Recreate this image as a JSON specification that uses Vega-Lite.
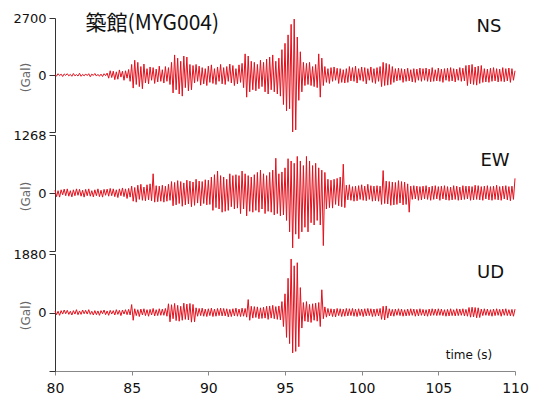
{
"$schema":"https://vega.github.io/schema/vega-lite/v6.json",
"padding":{"left":12,"top":12,"right":5,"bottom":0},
"background":"white",
"bounds":"flush",
"spacing":3,
"config":{"view":{"stroke":null},"font":"DejaVu Sans",
 "axisY":{"grid":false,"domainColor":"#333","domainWidth":1,"tickColor":"#333","tickSize":6,"labelFontSize":13,"labelColor":"#111","labelPadding":3,"labelFlush":false,"format":"d","labelExpr":"datum.value < 0 ? '' : datum.label","titleFontSize":12,"titleFontWeight":"normal","titleColor":"#666","titleX":-30,"titleAngle":-90,"titleBaseline":"middle","titleAlign":"center"},
 "axisX":{"grid":false,"domainColor":"#888","tickColor":"#888","tickSize":4,"labelFontSize":14,"labelColor":"#111","labelPadding":6,"labelFlush":false}},
"datasets":{"w":[
{"t":80.0,"ns":20,"ew":60,"ud":50},{"t":80.1,"ns":-50,"ew":-80,"ud":-70},{"t":80.2,"ns":60,"ew":50,"ud":40},{"t":80.3,"ns":-30,"ew":-90,"ud":-90},{"t":80.4,"ns":40,"ew":70,"ud":60},{"t":80.5,"ns":-70,"ew":-40,"ud":-50},{"t":80.6,"ns":50,"ew":85,"ud":80},{"t":80.7,"ns":-20,"ew":-60,"ud":-40},{"t":80.8,"ns":60,"ew":90,"ud":70},{"t":80.9,"ns":-40,"ew":-70,"ud":-60},
{"t":81.0,"ns":30,"ew":50,"ud":40},{"t":81.1,"ns":-60,"ew":-85,"ud":-80},{"t":81.2,"ns":70,"ew":70,"ud":60},{"t":81.3,"ns":-40,"ew":-60,"ud":-50},{"t":81.4,"ns":20,"ew":90,"ud":90},{"t":81.5,"ns":-50,"ew":-50,"ud":-70},{"t":81.6,"ns":80,"ew":80,"ud":50},{"t":81.7,"ns":-60,"ew":-70,"ud":-60},{"t":81.8,"ns":30,"ew":60,"ud":80},{"t":81.9,"ns":-40,"ew":-90,"ud":-40},
{"t":82.0,"ns":50,"ew":80,"ud":70},{"t":82.1,"ns":-30,"ew":-60,"ud":-50},{"t":82.2,"ns":60,"ew":90,"ud":90},{"t":82.3,"ns":-80,"ew":-70,"ud":-60},{"t":82.4,"ns":40,"ew":50,"ud":40},{"t":82.5,"ns":-20,"ew":-85,"ud":-80},{"t":82.6,"ns":70,"ew":70,"ud":60},{"t":82.7,"ns":-50,"ew":-60,"ud":-70},{"t":82.8,"ns":30,"ew":90,"ud":50},{"t":82.9,"ns":-60,"ew":-80,"ud":-90},
{"t":83.0,"ns":40,"ew":60,"ud":60},{"t":83.1,"ns":-70,"ew":-90,"ud":-40},{"t":83.2,"ns":60,"ew":80,"ud":80},{"t":83.3,"ns":-30,"ew":-50,"ud":-70},{"t":83.4,"ns":90,"ew":85,"ud":50},{"t":83.5,"ns":-150,"ew":-70,"ud":-90},{"t":83.6,"ns":200,"ew":100,"ud":70},{"t":83.7,"ns":-120,"ew":-60,"ud":-50},{"t":83.8,"ns":180,"ew":90,"ud":60},{"t":83.9,"ns":-220,"ew":-80,"ud":-80},
{"t":84.0,"ns":150,"ew":70,"ud":90},{"t":84.1,"ns":-200,"ew":-100,"ud":-60},{"t":84.2,"ns":240,"ew":90,"ud":70},{"t":84.3,"ns":-100,"ew":-60,"ud":-100},{"t":84.4,"ns":180,"ew":110,"ud":80},{"t":84.5,"ns":-250,"ew":-80,"ud":-50},{"t":84.6,"ns":200,"ew":90,"ud":90},{"t":84.7,"ns":-150,"ew":-120,"ud":-70},{"t":84.8,"ns":260,"ew":100,"ud":100},{"t":84.9,"ns":-300,"ew":-90,"ud":-80},
{"t":85.0,"ns":500,"ew":150,"ud":255},{"t":85.1,"ns":-620,"ew":-180,"ud":-250},{"t":85.2,"ns":700,"ew":120,"ud":120},{"t":85.3,"ns":-450,"ew":-200,"ud":-100},{"t":85.4,"ns":600,"ew":170,"ud":90},{"t":85.5,"ns":-550,"ew":-140,"ud":-130},{"t":85.6,"ns":400,"ew":190,"ud":110},{"t":85.7,"ns":-650,"ew":-160,"ud":-80},{"t":85.8,"ns":520,"ew":130,"ud":120},{"t":85.9,"ns":-380,"ew":-170,"ud":-100},
{"t":86.0,"ns":300,"ew":180,"ud":90},{"t":86.1,"ns":-420,"ew":-150,"ud":-120},{"t":86.2,"ns":380,"ew":200,"ud":100},{"t":86.3,"ns":-250,"ew":-170,"ud":-80},{"t":86.4,"ns":350,"ew":420,"ud":130},{"t":86.5,"ns":-400,"ew":-200,"ud":-110},{"t":86.6,"ns":280,"ew":160,"ud":90},{"t":86.7,"ns":-330,"ew":-190,"ud":-100},{"t":86.8,"ns":420,"ew":150,"ud":120},{"t":86.9,"ns":-300,"ew":-180,"ud":-90},
{"t":87.0,"ns":250,"ew":170,"ud":110},{"t":87.1,"ns":-380,"ew":-200,"ud":-90},{"t":87.2,"ns":400,"ew":150,"ud":130},{"t":87.3,"ns":-300,"ew":-180,"ud":-120},{"t":87.4,"ns":350,"ew":190,"ud":280},{"t":87.5,"ns":-450,"ew":-160,"ud":-300},{"t":87.6,"ns":600,"ew":250,"ud":250},{"t":87.7,"ns":-850,"ew":-280,"ud":-200},{"t":87.8,"ns":950,"ew":230,"ud":290},{"t":87.9,"ns":-700,"ew":-260,"ud":-260},
{"t":88.0,"ns":800,"ew":270,"ud":230},{"t":88.1,"ns":-900,"ew":-230,"ud":-280},{"t":88.2,"ns":650,"ew":250,"ud":200},{"t":88.3,"ns":-1000,"ew":-290,"ud":-250},{"t":88.4,"ns":900,"ew":220,"ud":300},{"t":88.5,"ns":-600,"ew":-260,"ud":-220},{"t":88.6,"ns":850,"ew":280,"ud":270},{"t":88.7,"ns":-750,"ew":-240,"ud":-240},{"t":88.8,"ns":500,"ew":260,"ud":290},{"t":88.9,"ns":-700,"ew":-300,"ud":-310},
{"t":89.0,"ns":450,"ew":240,"ud":260},{"t":89.1,"ns":-380,"ew":-270,"ud":-300},{"t":89.2,"ns":500,"ew":300,"ud":150},{"t":89.3,"ns":-300,"ew":-220,"ud":-120},{"t":89.4,"ns":420,"ew":260,"ud":130},{"t":89.5,"ns":-480,"ew":-280,"ud":-100},{"t":89.6,"ns":350,"ew":250,"ud":140},{"t":89.7,"ns":-420,"ew":-230,"ud":-120},{"t":89.8,"ns":300,"ew":290,"ud":110},{"t":89.9,"ns":-500,"ew":-260,"ud":-130},
{"t":90.0,"ns":420,"ew":280,"ud":120},{"t":90.1,"ns":-350,"ew":-250,"ud":-100},{"t":90.2,"ns":480,"ew":350,"ud":140},{"t":90.3,"ns":-400,"ew":-380,"ud":-130},{"t":90.4,"ns":300,"ew":400,"ud":110},{"t":90.5,"ns":-450,"ew":-320,"ud":-120},{"t":90.6,"ns":380,"ew":480,"ud":130},{"t":90.7,"ns":-300,"ew":-350,"ud":-100},{"t":90.8,"ns":500,"ew":380,"ud":140},{"t":90.9,"ns":-420,"ew":-420,"ud":-110},
{"t":91.0,"ns":350,"ew":350,"ud":130},{"t":91.1,"ns":-450,"ew":-400,"ud":-110},{"t":91.2,"ns":400,"ew":300,"ud":120},{"t":91.3,"ns":-300,"ew":-380,"ud":-140},{"t":91.4,"ns":520,"ew":420,"ud":100},{"t":91.5,"ns":-380,"ew":-300,"ud":-130},{"t":91.6,"ns":450,"ew":380,"ud":120},{"t":91.7,"ns":-500,"ew":-350,"ud":-110},{"t":91.8,"ns":300,"ew":400,"ud":140},{"t":91.9,"ns":-420,"ew":-330,"ud":-120},
{"t":92.0,"ns":480,"ew":380,"ud":110},{"t":92.1,"ns":-350,"ew":-450,"ud":-130},{"t":92.2,"ns":550,"ew":480,"ud":140},{"t":92.3,"ns":-600,"ew":-350,"ud":-120},{"t":92.4,"ns":1000,"ew":420,"ud":130},{"t":92.5,"ns":-1050,"ew":-500,"ud":-150},{"t":92.6,"ns":900,"ew":380,"ud":415},{"t":92.7,"ns":-800,"ew":-400,"ud":-250},{"t":92.8,"ns":650,"ew":350,"ud":200},{"t":92.9,"ns":-700,"ew":-420,"ud":-180},
{"t":93.0,"ns":600,"ew":400,"ud":190},{"t":93.1,"ns":-750,"ew":-380,"ud":-160},{"t":93.2,"ns":500,"ew":450,"ud":180},{"t":93.3,"ns":-650,"ew":-420,"ud":-200},{"t":93.4,"ns":700,"ew":500,"ud":150},{"t":93.5,"ns":-550,"ew":-350,"ud":-190},{"t":93.6,"ns":600,"ew":420,"ud":170},{"t":93.7,"ns":-800,"ew":-450,"ud":-180},{"t":93.8,"ns":750,"ew":380,"ud":200},{"t":93.9,"ns":-900,"ew":-400,"ud":-220},
{"t":94.0,"ns":850,"ew":450,"ud":210},{"t":94.1,"ns":-700,"ew":-420,"ud":-180},{"t":94.2,"ns":950,"ew":500,"ud":230},{"t":94.3,"ns":-800,"ew":-480,"ud":-200},{"t":94.4,"ns":650,"ew":760,"ud":190},{"t":94.5,"ns":-900,"ew":-450,"ud":-220},{"t":94.6,"ns":800,"ew":420,"ud":210},{"t":94.7,"ns":-1000,"ew":-500,"ud":-240},{"t":94.8,"ns":1200,"ew":460,"ud":350},{"t":94.9,"ns":-1400,"ew":-480,"ud":-450},
{"t":95.0,"ns":1500,"ew":550,"ud":600},{"t":95.1,"ns":-1700,"ew":-600,"ud":-800},{"t":95.2,"ns":1900,"ew":750,"ud":1100},{"t":95.3,"ns":-1600,"ew":-850,"ud":-1000},{"t":95.4,"ns":2400,"ew":700,"ud":1720},{"t":95.5,"ns":-2700,"ew":-1200,"ud":-1300},{"t":95.6,"ns":2650,"ew":650,"ud":1500},{"t":95.7,"ns":-2600,"ew":-900,"ud":-1250},{"t":95.8,"ns":1800,"ew":800,"ud":1600},{"t":95.9,"ns":-1200,"ew":-1000,"ud":-1100},
{"t":96.0,"ns":1100,"ew":700,"ud":800},{"t":96.1,"ns":-800,"ew":-850,"ud":-500},{"t":96.2,"ns":600,"ew":600,"ud":320},{"t":96.3,"ns":-500,"ew":-750,"ud":-280},{"t":96.4,"ns":550,"ew":800,"ud":350},{"t":96.5,"ns":-450,"ew":-850,"ud":-300},{"t":96.6,"ns":600,"ew":700,"ud":260},{"t":96.7,"ns":-500,"ew":-650,"ud":-320},{"t":96.8,"ns":400,"ew":600,"ud":280},{"t":96.9,"ns":-550,"ew":-700,"ud":-250},
{"t":97.0,"ns":500,"ew":650,"ud":300},{"t":97.1,"ns":-600,"ew":-600,"ud":-280},{"t":97.2,"ns":1000,"ew":550,"ud":320},{"t":97.3,"ns":-1050,"ew":-700,"ud":-450},{"t":97.4,"ns":800,"ew":500,"ud":730},{"t":97.5,"ns":-500,"ew":-1150,"ud":-200},{"t":97.6,"ns":400,"ew":450,"ud":180},{"t":97.7,"ns":-350,"ew":-350,"ud":-150},{"t":97.8,"ns":300,"ew":300,"ud":130},{"t":97.9,"ns":-400,"ew":-320,"ud":-110},
{"t":98.0,"ns":350,"ew":280,"ud":120},{"t":98.1,"ns":-300,"ew":-330,"ud":-130},{"t":98.2,"ns":380,"ew":300,"ud":110},{"t":98.3,"ns":-250,"ew":-250,"ud":-140},{"t":98.4,"ns":320,"ew":320,"ud":130},{"t":98.5,"ns":-400,"ew":-280,"ud":-100},{"t":98.6,"ns":300,"ew":350,"ud":120},{"t":98.7,"ns":-350,"ew":-300,"ud":-130},{"t":98.8,"ns":250,"ew":630,"ud":110},{"t":98.9,"ns":-380,"ew":-320,"ud":-120},
{"t":99.0,"ns":300,"ew":170,"ud":130},{"t":99.1,"ns":-350,"ew":-150,"ud":-110},{"t":99.2,"ns":400,"ew":180,"ud":120},{"t":99.3,"ns":-280,"ew":-160,"ud":-100},{"t":99.4,"ns":350,"ew":140,"ud":130},{"t":99.5,"ns":-300,"ew":-180,"ud":-120},{"t":99.6,"ns":420,"ew":150,"ud":110},{"t":99.7,"ns":-380,"ew":-170,"ud":-130},{"t":99.8,"ns":300,"ew":160,"ud":120},{"t":99.9,"ns":-250,"ew":-140,"ud":-100},
{"t":100.0,"ns":380,"ew":180,"ud":110},{"t":100.1,"ns":-300,"ew":-160,"ud":-130},{"t":100.2,"ns":350,"ew":150,"ud":120},{"t":100.3,"ns":-420,"ew":-170,"ud":-110},{"t":100.4,"ns":300,"ew":190,"ud":130},{"t":100.5,"ns":-250,"ew":-140,"ud":-100},{"t":100.6,"ns":380,"ew":160,"ud":120},{"t":100.7,"ns":-350,"ew":-180,"ud":-130},{"t":100.8,"ns":300,"ew":150,"ud":110},{"t":100.9,"ns":-400,"ew":-170,"ud":-120},
{"t":101.0,"ns":350,"ew":160,"ud":120},{"t":101.1,"ns":-300,"ew":-180,"ud":-110},{"t":101.2,"ns":400,"ew":150,"ud":130},{"t":101.3,"ns":-550,"ew":-250,"ud":-220},{"t":101.4,"ns":600,"ew":490,"ud":200},{"t":101.5,"ns":-500,"ew":-230,"ud":-240},{"t":101.6,"ns":550,"ew":260,"ud":210},{"t":101.7,"ns":-480,"ew":-240,"ud":-180},{"t":101.8,"ns":500,"ew":250,"ud":120},{"t":101.9,"ns":-450,"ew":-270,"ud":-110},
{"t":102.0,"ns":400,"ew":240,"ud":100},{"t":102.1,"ns":-350,"ew":-260,"ud":-120},{"t":102.2,"ns":300,"ew":230,"ud":110},{"t":102.3,"ns":-280,"ew":-250,"ud":-90},{"t":102.4,"ns":330,"ew":270,"ud":120},{"t":102.5,"ns":-250,"ew":-220,"ud":-100},{"t":102.6,"ns":300,"ew":250,"ud":110},{"t":102.7,"ns":-350,"ew":-260,"ud":-120},{"t":102.8,"ns":280,"ew":240,"ud":90},{"t":102.9,"ns":-300,"ew":-250,"ud":-110},
{"t":103.0,"ns":320,"ew":200,"ud":110},{"t":103.1,"ns":-280,"ew":-420,"ud":-100},{"t":103.2,"ns":250,"ew":150,"ud":120},{"t":103.3,"ns":-330,"ew":-140,"ud":-90},{"t":103.4,"ns":300,"ew":160,"ud":110},{"t":103.5,"ns":-350,"ew":-130,"ud":-120},{"t":103.6,"ns":280,"ew":150,"ud":100},{"t":103.7,"ns":-250,"ew":-160,"ud":-110},{"t":103.8,"ns":330,"ew":140,"ud":120},{"t":103.9,"ns":-300,"ew":-150,"ud":-90},
{"t":104.0,"ns":300,"ew":150,"ud":100},{"t":104.1,"ns":-250,"ew":-130,"ud":-110},{"t":104.2,"ns":330,"ew":160,"ud":90},{"t":104.3,"ns":-300,"ew":-140,"ud":-120},{"t":104.4,"ns":280,"ew":130,"ud":110},{"t":104.5,"ns":-320,"ew":-160,"ud":-100},{"t":104.6,"ns":350,"ew":150,"ud":120},{"t":104.7,"ns":-300,"ew":-140,"ud":-90},{"t":104.8,"ns":250,"ew":160,"ud":110},{"t":104.9,"ns":-280,"ew":-130,"ud":-100},
{"t":105.0,"ns":330,"ew":140,"ud":120},{"t":105.1,"ns":-300,"ew":-160,"ud":-90},{"t":105.2,"ns":280,"ew":150,"ud":110},{"t":105.3,"ns":-350,"ew":-130,"ud":-100},{"t":105.4,"ns":300,"ew":160,"ud":90},{"t":105.5,"ns":-250,"ew":-150,"ud":-120},{"t":105.6,"ns":320,"ew":140,"ud":100},{"t":105.7,"ns":-300,"ew":-160,"ud":-110},{"t":105.8,"ns":350,"ew":130,"ud":120},{"t":105.9,"ns":-280,"ew":-150,"ud":-100},
{"t":106.0,"ns":300,"ew":160,"ud":90},{"t":106.1,"ns":-330,"ew":-140,"ud":-110},{"t":106.2,"ns":280,"ew":150,"ud":120},{"t":106.3,"ns":-250,"ew":-160,"ud":-100},{"t":106.4,"ns":350,"ew":130,"ud":110},{"t":106.5,"ns":-300,"ew":-150,"ud":-90},{"t":106.6,"ns":320,"ew":160,"ud":120},{"t":106.7,"ns":-280,"ew":-140,"ud":-110},{"t":106.8,"ns":450,"ew":150,"ud":100},{"t":106.9,"ns":-500,"ew":-130,"ud":-120},
{"t":107.0,"ns":470,"ew":150,"ud":160},{"t":107.1,"ns":-420,"ew":-160,"ud":-150},{"t":107.2,"ns":500,"ew":140,"ud":170},{"t":107.3,"ns":-450,"ew":-150,"ud":-140},{"t":107.4,"ns":380,"ew":170,"ud":160},{"t":107.5,"ns":-480,"ew":-140,"ud":-170},{"t":107.6,"ns":420,"ew":160,"ud":150},{"t":107.7,"ns":-400,"ew":-150,"ud":-160},{"t":107.8,"ns":450,"ew":140,"ud":110},{"t":107.9,"ns":-350,"ew":-160,"ud":-100},
{"t":108.0,"ns":300,"ew":150,"ud":120},{"t":108.1,"ns":-330,"ew":-130,"ud":-90},{"t":108.2,"ns":280,"ew":160,"ud":110},{"t":108.3,"ns":-350,"ew":-150,"ud":-100},{"t":108.4,"ns":320,"ew":140,"ud":90},{"t":108.5,"ns":-300,"ew":-160,"ud":-120},{"t":108.6,"ns":350,"ew":150,"ud":110},{"t":108.7,"ns":-280,"ew":-140,"ud":-100},{"t":108.8,"ns":300,"ew":170,"ud":120},{"t":108.9,"ns":-330,"ew":-150,"ud":-90},
{"t":109.0,"ns":280,"ew":140,"ud":100},{"t":109.1,"ns":-300,"ew":-160,"ud":-120},{"t":109.2,"ns":350,"ew":150,"ud":110},{"t":109.3,"ns":-320,"ew":-130,"ud":-90},{"t":109.4,"ns":300,"ew":160,"ud":120},{"t":109.5,"ns":-280,"ew":-150,"ud":-100},{"t":109.6,"ns":330,"ew":140,"ud":90},{"t":109.7,"ns":-350,"ew":-170,"ud":-110},{"t":109.8,"ns":300,"ew":150,"ud":100},{"t":109.9,"ns":-250,"ew":-140,"ud":-120},
{"t":110.0,"ns":200,"ew":320,"ud":110}
]},
"vconcat":[
 {"width":460,"height":114,
  "layer":[
   {"data":{"name":"w"},"mark":{"type":"line","color":"#e3101c","strokeWidth":1},
    "encoding":{"x":{"field":"t","type":"quantitative","scale":{"domain":[80,110],"nice":false,"zero":false},"axis":null},
     "y":{"field":"ns","type":"quantitative","scale":{"domain":[-2700,2700],"nice":false},"axis":{"values":[-2700,0,2700],"title":"(Gal)","titleY":59}}}},
   {"data":{"values":[{}]},"mark":{"type":"text","text":"築館(MYG004)","font":"Noto Sans CJK JP","fontSize":21,"color":"#111","align":"center","baseline":"middle"},
    "encoding":{"x":{"datum":86.35,"type":"quantitative"},"y":{"datum":2420,"type":"quantitative"}}},
   {"data":{"values":[{}]},"mark":{"type":"text","text":"NS","fontSize":18,"color":"#111","align":"center","baseline":"middle"},
    "encoding":{"x":{"datum":108.3,"type":"quantitative"},"y":{"datum":2270,"type":"quantitative"}}}
  ]},
 {"width":460,"height":116,
  "layer":[
   {"data":{"name":"w"},"mark":{"type":"line","color":"#e3101c","strokeWidth":1},
    "encoding":{"x":{"field":"t","type":"quantitative","scale":{"domain":[80,110],"nice":false,"zero":false},"axis":null},
     "y":{"field":"ew","type":"quantitative","scale":{"domain":[-1268,1268],"nice":false},"axis":{"values":[-1268,0,1268],"title":"(Gal)","titleY":61}}}},
   {"data":{"values":[{}]},"mark":{"type":"text","text":"EW","fontSize":18,"color":"#111","align":"center","baseline":"middle"},
    "encoding":{"x":{"datum":108.7,"type":"quantitative"},"y":{"datum":690,"type":"quantitative"}}}
  ]},
 {"width":460,"height":117,
  "layer":[
   {"data":{"name":"w"},"mark":{"type":"line","color":"#e3101c","strokeWidth":1},
    "encoding":{"x":{"field":"t","type":"quantitative","scale":{"domain":[80,110],"nice":false,"zero":false},"axis":{"values":[80,85,90,95,100,105,110],"title":null}},
     "y":{"field":"ud","type":"quantitative","scale":{"domain":[-1880,1880],"nice":false},"axis":{"values":[-1880,0,1880],"title":"(Gal)","titleY":61}}}},
   {"data":{"values":[{}]},"mark":{"type":"text","text":"UD","fontSize":18,"color":"#111","align":"center","baseline":"middle"},
    "encoding":{"x":{"datum":108.4,"type":"quantitative"},"y":{"datum":1270,"type":"quantitative"}}},
   {"data":{"values":[{}]},"mark":{"type":"text","text":"time (s)","fontSize":12,"color":"#111","align":"center","baseline":"middle"},
    "encoding":{"x":{"datum":107.0,"type":"quantitative"},"y":{"datum":-1365,"type":"quantitative"}}}
  ]}
]
}
